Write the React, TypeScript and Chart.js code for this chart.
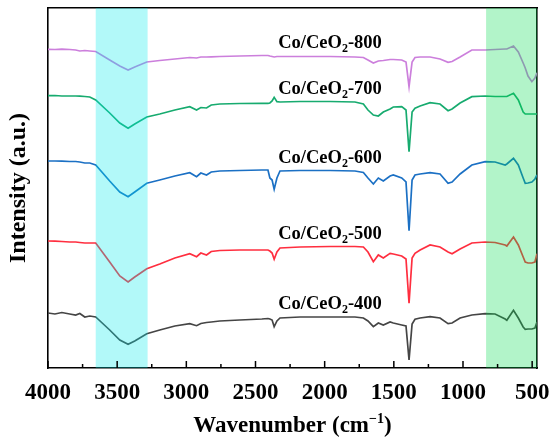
import { useEffect, useRef } from "react";
import { Chart, registerables } from "chart.js";

Chart.register(...registerables);

// wavenumber grid (cm-1) shared by all spectra
const wavenumbers = [
  4000, 3950, 3900, 3843, 3800, 3770, 3734, 3698, 3655, 3554, 3481, 3421, 3373, 3286, 3192, 3083,
  2975, 2926, 2895, 2854, 2820, 2758, 2613, 2454, 2410, 2396, 2380, 2365, 2345, 2323, 2178, 1961,
  1781, 1720, 1687, 1648, 1612, 1576, 1527, 1504, 1443, 1412, 1390, 1368, 1347, 1310, 1238, 1166,
  1108, 1079, 1021, 936, 840, 768, 695, 683, 635, 600, 565, 550, 530, 502, 480, 465,
];

const co800 = [
  318.7, 318.5, 318.8, 318.5, 318, 317, 317.5, 317, 316.5, 308, 302, 298, 301, 306, 307.5, 309,
  310.5, 310, 311, 311, 311.2, 311.5, 312, 312.5, 312.5, 312, 311.5, 311, 311.5, 311.5, 311.5, 311.5,
  311, 310.5, 308, 305, 307, 307.5, 308.5, 308.5, 308, 306, 281.3, 306, 310.5, 311, 311, 309,
  305.7, 306.5, 311, 318, 318, 318.5, 319, 319, 322, 316, 305, 300, 292, 286.3, 290, 295.3,
];
const co700 = [
  272.3, 272.5, 272, 272, 272, 271.8, 271.5, 271, 268, 255, 245, 239.7, 244, 251, 254, 258,
  261.3, 258, 260.5, 260, 263, 264, 264.5, 264.7, 264.7, 265, 267, 270.7, 266.3, 266, 266.5, 266.5,
  266, 264, 258, 253, 252, 256, 259, 261, 261.3, 258, 216.3, 256, 259.7, 262, 265.3, 264,
  257.3, 259, 265, 271.3, 272, 271.5, 271.5, 271.5, 274.7, 268, 256, 254, 254, 254, 254, 254,
];
const co600 = [
  207, 207, 206.8, 206.5, 206.5, 206, 205, 205, 203, 187, 176, 171.3, 176, 184.7, 188, 192,
  195.3, 191.3, 195, 193, 196, 197, 197.5, 198, 198, 190, 188, 178.7, 190, 197, 197.5, 197.5,
  197, 195.5, 190, 184, 190, 187, 192, 193, 190, 186, 137.3, 188, 193, 194, 195.3, 194,
  184.7, 186, 194, 203, 206.3, 206, 203, 204, 209.7, 203, 190, 184.7, 185, 186, 189, 193,
];
const co500 = [
  127, 126.8, 126.5, 126, 126, 125.5, 125, 125, 125, 106, 92, 86, 91, 99.3, 104, 110,
  114.3, 111.3, 115, 113, 116.5, 117.5, 118, 118, 118, 117, 115, 108.7, 116, 120, 121, 121.5,
  121.5, 121, 116, 106.3, 113, 110, 114.7, 114, 112, 109, 64.7, 110, 114.7, 118, 123, 121,
  116, 114.3, 119, 125, 126, 125.5, 123, 122, 131, 123, 111, 106, 105, 105, 106, 114.3,
];
const co400 = [
  55, 54, 55.5, 54, 53, 54.5, 51, 52, 51, 38, 28, 23.7, 27, 34.3, 38, 42,
  44.3, 42.3, 44.5, 45.5, 46, 47, 48, 49, 49.5, 49, 48, 41.3, 47, 50, 51, 51,
  51, 50, 47, 41.3, 45, 43, 46, 45, 43, 42, 8, 44, 48.7, 50, 51.3, 50,
  44.3, 45, 50, 53, 54.3, 54, 49, 47.7, 57.7, 50, 41, 38.7, 39, 39, 40, 46,
];

const seriesNames = ["800", "700", "600", "500", "400"];
const seriesValues = [co800, co700, co600, co500, co400];
const seriesColors = ["#cc7fdc", "#17ab6f", "#1b70c4", "#ff2e3f", "#454545"];

const xTickValues = [4000, 3500, 3000, 2500, 2000, 1500, 1000, 500];
const xMinorTicks = [3750, 3250, 2750, 2250, 1750, 1250, 750];

// shaded regions [from, to] in cm-1
const bands = [
  { from: 3655, to: 3280, color: "rgba(0,235,235,0.3)" },
  { from: 833, to: 465, color: "rgba(0,220,75,0.3)" },
];

// label anchors: left wavenumber, baseline value
const labelX = 2336;
const labelY = [320.3, 273.7, 205, 129.3, 58.7];

const FONT = '"Liberation Serif", "Times New Roman", serif';
const axisBorder = { display: true, color: "#000", width: 1.6 };

const decorations = {
  id: "decorations",
  afterDatasetsDraw(chart: Chart) {
    const { ctx, chartArea } = chart;
    const { top, bottom } = chartArea;
    const x = chart.scales.x;
    ctx.save();
    bands.forEach((b) => {
      const x1 = x.getPixelForValue(b.from);
      const x2 = x.getPixelForValue(b.to);
      ctx.fillStyle = b.color;
      ctx.fillRect(x1, top, x2 - x1, bottom - top);
    });
    ctx.restore();
  },
  afterDraw(chart: Chart) {
    const { ctx, chartArea } = chart;
    const { left, right, top, bottom } = chartArea;
    const x = chart.scales.x;
    const y = chart.scales.y;
    ctx.save();
    ctx.fillStyle = "#000";
    // inward ticks
    xTickValues.forEach((v) => {
      const px = x.getPixelForValue(v);
      ctx.fillRect(px - 0.75, bottom - 7, 1.5, 7);
    });
    xMinorTicks.forEach((v) => {
      const px = x.getPixelForValue(v);
      ctx.fillRect(px - 0.75, bottom - 4, 1.5, 4);
    });

    // sample labels
    ctx.textBaseline = "alphabetic";
    ctx.textAlign = "left";
    seriesNames.forEach((name, i) => {
      let px = x.getPixelForValue(labelX);
      const py = y.getPixelForValue(labelY[i]);
      ctx.font = `bold 18.5px ${FONT}`;
      ctx.fillText("Co/CeO", px, py);
      px += ctx.measureText("Co/CeO").width;
      ctx.font = `bold 12px ${FONT}`;
      ctx.fillText("2", px, py + 4);
      px += ctx.measureText("2").width;
      ctx.font = `bold 18.5px ${FONT}`;
      ctx.fillText("-" + name, px, py);
    });

    // x title with superscript
    ctx.font = `bold 23px ${FONT}`;
    const a = "Wavenumber (cm";
    const c = ")";
    const aw = ctx.measureText(a).width;
    const cw = ctx.measureText(c).width;
    ctx.font = `bold 14px ${FONT}`;
    const sup = "\u22121";
    const bw = ctx.measureText(sup).width;
    let tx = (left + right) / 2 - (aw + bw + cw) / 2;
    const ty = 431.5;
    ctx.font = `bold 23px ${FONT}`;
    ctx.fillText(a, tx, ty);
    tx += aw;
    ctx.font = `bold 14px ${FONT}`;
    ctx.fillText(sup, tx, ty - 9);
    tx += bw;
    ctx.font = `bold 23px ${FONT}`;
    ctx.fillText(c, tx, ty);

    // y title
    ctx.translate(25, (top + bottom) / 2);
    ctx.rotate(-Math.PI / 2);
    ctx.textAlign = "center";
    ctx.font = `bold 24px ${FONT}`;
    ctx.fillText("Intensity (a.u.)", 0, 0);
    ctx.restore();
  },
};

export default function App() {
  const canvasRef = useRef<HTMLCanvasElement>(null);

  useEffect(() => {
    if (!canvasRef.current) return;
    const chart = new Chart(canvasRef.current, {
      type: "line",
      data: {
        datasets: seriesValues.map((vals, i) => ({
          label: "Co/CeO2-" + seriesNames[i],
          data: vals.map((v, j) => ({ x: wavenumbers[j], y: v })),
          borderColor: seriesColors[i],
          borderWidth: 1.7,
          pointRadius: 0,
          tension: 0,
          fill: false,
        })),
      },
      options: {
        animation: false,
        responsive: true,
        maintainAspectRatio: false,
        layout: { padding: { top: 8, right: 13, left: 0, bottom: 0 } },
        plugins: { legend: { display: false }, tooltip: { enabled: false } },
        scales: {
          x: {
            type: "linear",
            reverse: true,
            min: 465,
            max: 4000,
            grid: { display: false, drawTicks: false },
            border: axisBorder,
            afterBuildTicks: (s) => {
              s.ticks = xTickValues.map((v) => ({ value: v }));
            },
            afterFit: (s) => {
              s.height = 76;
              s.paddingLeft = 0;
              s.paddingRight = 0;
            },
            ticks: {
              color: "#000",
              font: { family: FONT, size: 23, weight: "bold" },
              padding: 11,
              maxRotation: 0,
              autoSkip: false,
              callback: (v) => String(v),
            },
          },
          x2: {
            type: "linear",
            position: "top",
            reverse: true,
            min: 465,
            max: 4000,
            grid: { display: false, drawTicks: false },
            border: axisBorder,
            ticks: { display: false },
            afterFit: (s) => {
              s.height = 0;
              s.paddingLeft = 0;
              s.paddingRight = 0;
            },
          },
          y: {
            min: 0,
            max: 360,
            grid: { display: false, drawTicks: false },
            border: axisBorder,
            ticks: { display: false },
            afterFit: (s) => {
              s.width = 48;
            },
          },
          y2: {
            position: "right",
            min: 0,
            max: 360,
            grid: { display: false, drawTicks: false },
            border: axisBorder,
            ticks: { display: false },
            afterFit: (s) => {
              s.width = 0;
            },
          },
        },
      },
      plugins: [decorations],
    });
    return () => chart.destroy();
  }, []);

  return (
    <div style={{ position: "absolute", left: 0, top: 0, width: 550, height: 444, background: "#fff" }}>
      <canvas ref={canvasRef} />
    </div>
  );
}
